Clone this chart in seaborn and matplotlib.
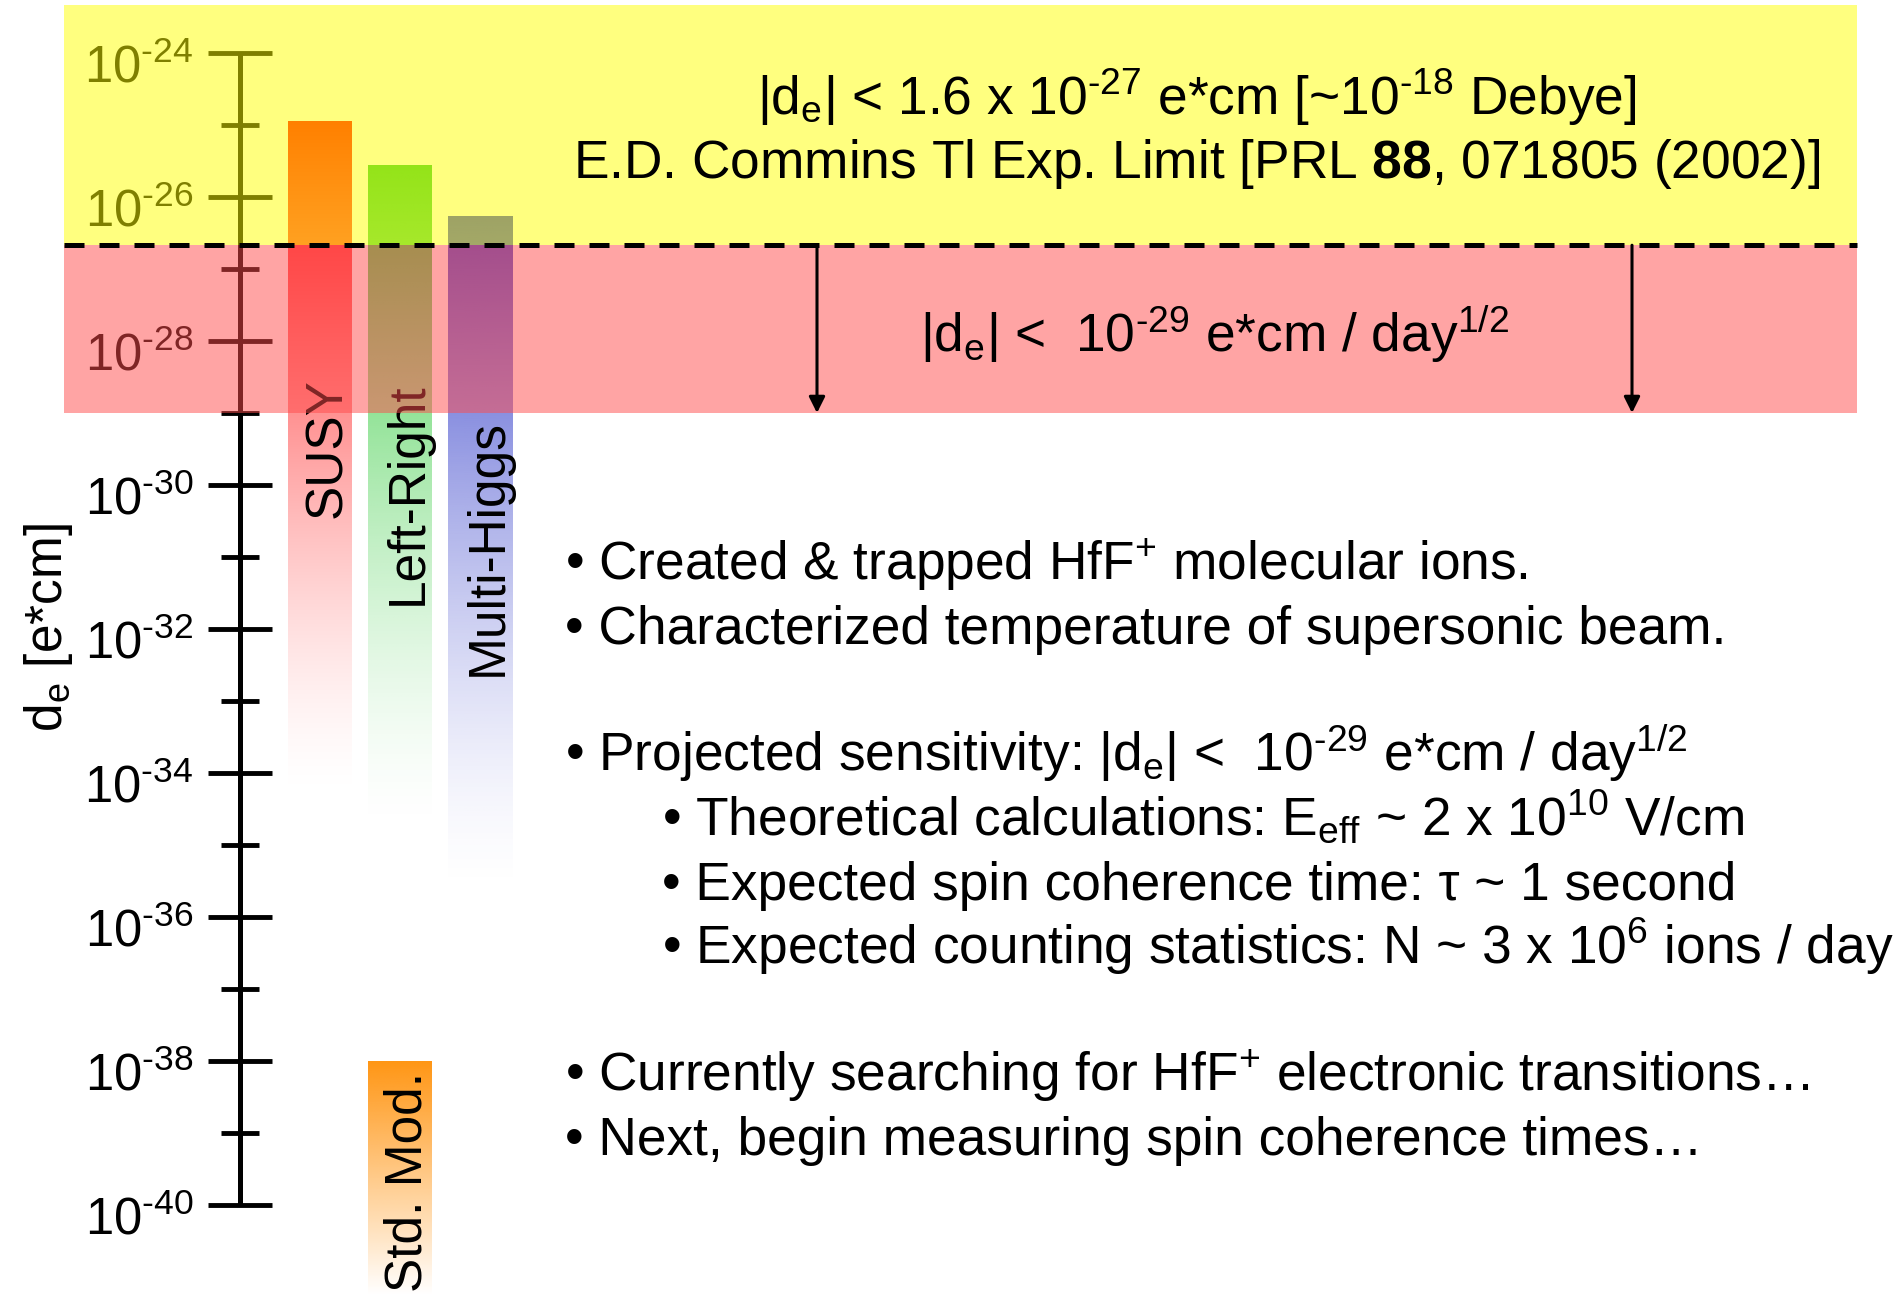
import numpy as np
import pandas as pd
import matplotlib
matplotlib.use("Agg")
import matplotlib.pyplot as plt
import matplotlib.transforms as mtransforms
from matplotlib.colors import to_rgb
import seaborn as sns

# ---------------- data (log10 of |d_e| in e*cm) ----------------
models = ["SUSY", "Left-Right", "Multi-Higgs"]
model_upper = [-24.95, -25.55, -26.28]
model_lower = [-34.4, -34.8, -35.7]
sm_name = "Std. Mod."
sm_upper = [-38.0]
sm_lower = [-41.25]
commins_limit = -26.67      # |d_e| < 1.6e-27 e*cm
projected_limit = -29.0     # 1e-29 e*cm / day^1/2
yellow_top = -23.33
major_exps = [-24, -26, -28, -30, -32, -34, -36, -38, -40]
minor_exps = [-25, -27, -29, -31, -33, -35, -37, -39]

limit_texts = [
    r"|d$_{\mathrm{e}}$| < 1.6 x 10$^{\text{-27}}$ e*cm [~10$^{\text{-18}}$ Debye]",
    r"E.D. Commins Tl Exp. Limit [PRL $\mathbf{88}$, 071805 (2002)]",
    r"|d$_{\mathrm{e}}$| <  10$^{\text{-29}}$ e*cm / day$^{\text{1/2}}$",
]
bullet_texts = [
    r"• Created & trapped HfF$^{+}$ molecular ions.",
    r"• Characterized temperature of supersonic beam.",
    r"• Projected sensitivity: |d$_{\mathrm{e}}$| <  10$^{\text{-29}}$ e*cm / day$^{\text{1/2}}$",
    r"• Theoretical calculations: E$_{\mathrm{eff}}$ ~ 2 x 10$^{\text{10}}$ V/cm",
    "• Expected spin coherence time: τ ~ 1 second",
    r"• Expected counting statistics: N ~ 3 x 10$^{\text{6}}$ ions / day",
    r"• Currently searching for HfF$^{+}$ electronic transitions…",
    "• Next, begin measuring spin coherence times…",
]

# ---------------- styles / layout ----------------
model_colors = ["#ff0000", "#28c832", "#3c46cc"]
sm_color = "#ff9614"
FS = 38.3      # slide text
FS_AX = 36.5   # tick labels
FS_BAR = 37    # bar labels

W, H = 1896, 1302
X0, XU = 320.5, 80.0           # pixel of category 0, pixels per category
Y_TOP, PXDEC = -23.264, 72.0   # exponent at top edge, pixels per decade

def xd(px):
    return (px - X0) / XU

def fx(px):
    return px / W

def fy(py):
    return 1 - py / H

sns.set_theme(style="white")
plt.rcParams["font.family"] = ["Liberation Sans", "DejaVu Sans"]
plt.rcParams["mathtext.fontset"] = "custom"
plt.rcParams["mathtext.rm"] = "Liberation Sans"
plt.rcParams["mathtext.sf"] = "Liberation Sans"
plt.rcParams["mathtext.it"] = "Liberation Sans:italic"
plt.rcParams["mathtext.bf"] = "Liberation Sans:bold"

fig = plt.figure(figsize=(W / 100, H / 100), dpi=100)
ax = fig.add_axes([0, 0, 1, 1])
ax.set_facecolor("white")

# ---------------- bars (seaborn) ----------------
df_models = pd.DataFrame({"pos": [0, 1, 2],
                          "span": np.array(model_upper) - np.array(model_lower)})
sns.barplot(data=df_models, x="pos", y="span", bottom=model_lower, native_scale=True,
            orient="x", width=0.8, errorbar=None, color="white", ax=ax, zorder=2)
df_sm = pd.DataFrame({"pos": [1], "span": np.array(sm_upper) - np.array(sm_lower)})
sns.barplot(data=df_sm, x="pos", y="span", bottom=sm_lower, native_scale=True,
            orient="x", width=0.8, errorbar=None, color="white", ax=ax, zorder=2)

bar_patches = list(ax.patches)
grad_specs = [(model_colors[0], 1.5), (model_colors[1], 1.5), (model_colors[2], 1.5), (sm_color, 1.0)]
for p, (col, power) in zip(bar_patches, grad_specs):
    p.set_facecolor("none")
    p.set_edgecolor("none")
    p.set_linewidth(0)
    x0, w = p.get_x(), p.get_width()
    y0, h = p.get_y(), p.get_height()
    n = 512
    t = np.linspace(0, 1, n)
    arr = np.ones((n, 1, 4))
    arr[..., :3] = to_rgb(col)
    arr[:, 0, 3] = (1 - t) ** power
    ax.imshow(arr, extent=(x0, x0 + w, y0, y0 + h), origin="upper", aspect="auto",
              interpolation="bilinear", zorder=2)

# bar labels
label_starts = [-30.46, -31.67, -32.65]
for i, (name, ys) in enumerate(zip(models, label_starts)):
    ax.text(i + 0.26, ys, name, rotation=90, rotation_mode="anchor", ha="left",
            va="baseline", fontsize=FS_BAR, color="black", zorder=3)
ax.text(1 + 0.26, -41.21, sm_name, rotation=90, rotation_mode="anchor", ha="left",
        va="baseline", fontsize=FS_BAR, color="black", zorder=3)

# ---------------- axes / ruler ----------------
ax.set_xlim(xd(0), xd(W))
ax.set_ylim(Y_TOP - H / PXDEC, Y_TOP)
ax.set_xticks([])
ax.set_xlabel("")
for s in ["top", "right", "bottom"]:
    ax.spines[s].set_visible(False)
ax.spines["left"].set_position(("data", xd(240)))
ax.spines["left"].set_bounds(min(major_exps), max(major_exps))
ax.spines["left"].set_linewidth(3.6)
ax.spines["left"].set_color("black")
ax.spines["left"].set_capstyle("butt")

ax.set_yticks(major_exps, [f"10$^{{\\text{{{e}}}}}$" for e in major_exps])
ax.set_yticks(minor_exps, minor=True)
ax.tick_params(axis="y", which="major", direction="inout", length=46, width=3.5,
               pad=10.5, labelsize=FS_AX, color="black", labelcolor="black", left=True)
ax.tick_params(axis="y", which="minor", direction="inout", length=27.5, width=3.5,
               color="black", left=True)
offset = mtransforms.ScaledTranslation(0, -0.295, fig.dpi_scale_trans)
for tk in ax.yaxis.get_major_ticks():
    tk.label1.set_verticalalignment("baseline")
    tk.label1.set_transform(tk.label1.get_transform() + offset)

ax.set_ylabel(r"d$_{\mathrm{e}}$ [e*cm]", fontsize=FS_BAR, color="black")
ax.yaxis.set_label_coords(fx(75), fy(628))
ax.grid(False)

# ---------------- limit bands ----------------
bx0, bx1 = fx(64), fx(1857)
ax.axhspan(commins_limit, yellow_top, xmin=bx0, xmax=bx1, facecolor=(1, 1, 0),
           alpha=0.5, lw=0, zorder=5)
ax.axhspan(projected_limit, commins_limit, xmin=bx0, xmax=bx1,
           facecolor=(1, 75 / 255, 75 / 255), alpha=0.5, lw=0, zorder=5)
ax.plot([xd(64), xd(1857)], [commins_limit, commins_limit], color="black", lw=3.6,
        ls=(0, (4, 3)), dash_capstyle="butt", zorder=6)
for apx in [817, 1632]:
    ax.annotate("", xy=(xd(apx), projected_limit), xytext=(xd(apx), commins_limit),
                arrowprops=dict(arrowstyle="-|>", color="black", lw=2.2,
                                mutation_scale=24, shrinkA=0, shrinkB=0),
                zorder=6)

# ---------------- texts ----------------
limit_pos = [(1197, 115), (1197, 178), (1215, 352)]
for txt, (px, py) in zip(limit_texts, limit_pos):
    ax.text(fx(px), fy(py), txt, transform=ax.transAxes, ha="center", va="baseline",
            fontsize=FS, color="black", zorder=7)

bullet_pos = [(565, 580), (565, 644), (565, 771), (662, 835), (662, 900), (662, 964),
              (565, 1091), (565, 1155)]
for txt, (px, py) in zip(bullet_texts, bullet_pos):
    ax.text(fx(px), fy(py), txt, transform=ax.transAxes, ha="left", va="baseline",
            fontsize=FS, color="black", zorder=7)

fig.savefig("out.png", dpi=100)
